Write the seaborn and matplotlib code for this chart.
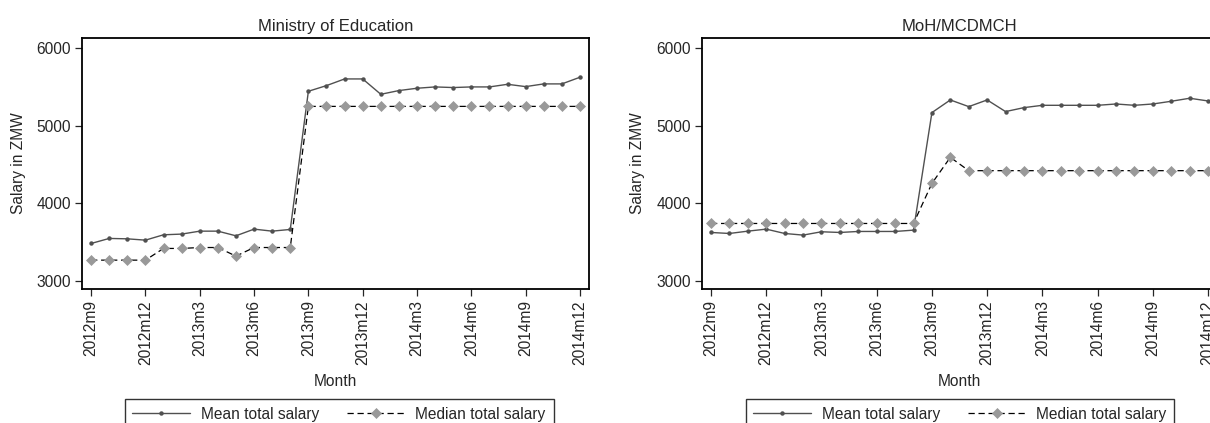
import matplotlib
matplotlib.use("Agg")
import matplotlib.pyplot as plt
import numpy as np
import pandas as pd
import seaborn as sns

# months 2012m9 .. 2014m12
months = ['2012m9', '2012m10', '2012m11', '2012m12', '2013m1', '2013m2', '2013m3',
          '2013m4', '2013m5', '2013m6', '2013m7', '2013m8', '2013m9', '2013m10',
          '2013m11', '2013m12', '2014m1', '2014m2', '2014m3', '2014m4', '2014m5',
          '2014m6', '2014m7', '2014m8', '2014m9', '2014m10', '2014m11', '2014m12']
tick_labels = ['2012m9', '2012m12', '2013m3', '2013m6', '2013m9', '2013m12',
               '2014m3', '2014m6', '2014m9', '2014m12']

# Ministry of Education
moe_mean = [3482, 3547, 3542, 3525, 3594, 3603, 3641, 3641, 3581, 3667, 3641, 3663,
            5445, 5518, 5604, 5604, 5406, 5454, 5484, 5501, 5493, 5501, 5501, 5535,
            5505, 5540, 5540, 5626]
moe_median = [3267, 3267, 3267, 3267, 3418, 3418, 3430, 3430, 3319, 3430, 3430, 3430,
              5250, 5250, 5250, 5250, 5250, 5250, 5250, 5250, 5250, 5250, 5250, 5250,
              5250, 5250, 5250, 5250]

# MoH/MCDMCH
moh_mean = [3624, 3611, 3641, 3667, 3611, 3590, 3633, 3624, 3637, 3637, 3637, 3654,
            5170, 5333, 5247, 5333, 5183, 5234, 5264, 5264, 5264, 5264, 5281, 5264,
            5281, 5316, 5355, 5320]
moh_median = [3740, 3740, 3740, 3740, 3740, 3740, 3740, 3740, 3740, 3740, 3740, 3740,
              4257, 4593, 4421, 4421, 4421, 4421, 4421, 4421, 4421, 4421, 4421, 4421,
              4421, 4421, 4421, 4421]

panels = [("Ministry of Education", moe_mean, moe_median),
          ("MoH/MCDMCH", moh_mean, moh_median)]

sns.set_style("ticks")
plt.rcParams['font.family'] = ['Liberation Sans', 'DejaVu Sans']
fs = 11.2

fig = plt.figure(figsize=(12.1, 4.23), dpi=100)
boxes = [[0.0678, 0.3168, 0.419, 0.593], [0.580, 0.3168, 0.426, 0.593]]
legend_x = [0.2802, 0.7934]

for (title, mean, median), box, lx in zip(panels, boxes, legend_x):
    ax = fig.add_axes(box)
    df = pd.DataFrame({"idx": np.arange(len(months)), "month": months,
                       "mean": mean, "median": median})
    sns.lineplot(data=df, x="idx", y="mean", ax=ax, color="#505050", lw=1.0,
                 marker="o", markersize=3.2, markeredgewidth=0,
                 label="Mean total salary")
    sns.lineplot(data=df, x="idx", y="median", ax=ax, color="black", lw=0.9,
                 marker="D", markersize=4.6, markerfacecolor="#999999",
                 markeredgecolor="#999999", markeredgewidth=0.5,
                 label="Median total salary")
    ax.lines[-1].set_linestyle((0, (5, 3)))
    ax.set_xlim(-0.5, 27.5)
    ax.set_ylim(2895, 6130)
    ax.set_yticks([3000, 4000, 5000, 6000])
    ax.set_xticks(np.arange(0, 28, 3))
    ax.set_xticklabels(tick_labels, rotation=90)
    ax.set_xlabel("Month", fontsize=fs, va="center")
    ax.set_ylabel("Salary in ZMW", fontsize=fs, va="center")
    ax.xaxis.set_label_coords(0.5, -0.367)
    ax.yaxis.set_label_coords(-0.125, 0.5)
    ax.set_title(title, fontsize=12, pad=5)
    for s in ax.spines.values():
        s.set_visible(True)
        s.set_linewidth(1.3)
        s.set_color("black")
    ax.tick_params(length=5, width=0.9, labelsize=fs, pad=3)
    ax.get_legend().remove()
    h, l = ax.get_legend_handles_labels()
    leg = fig.legend(h, l, loc="upper center", bbox_to_anchor=(lx, 0.0567), ncol=2,
                     frameon=True, fancybox=False, edgecolor="black",
                     handlelength=3.7, columnspacing=1.8, handletextpad=0.7,
                     fontsize=fs, borderpad=0.5, borderaxespad=0)
    leg.get_frame().set_linewidth(1.0)

fig.savefig("out.png", dpi=100)
